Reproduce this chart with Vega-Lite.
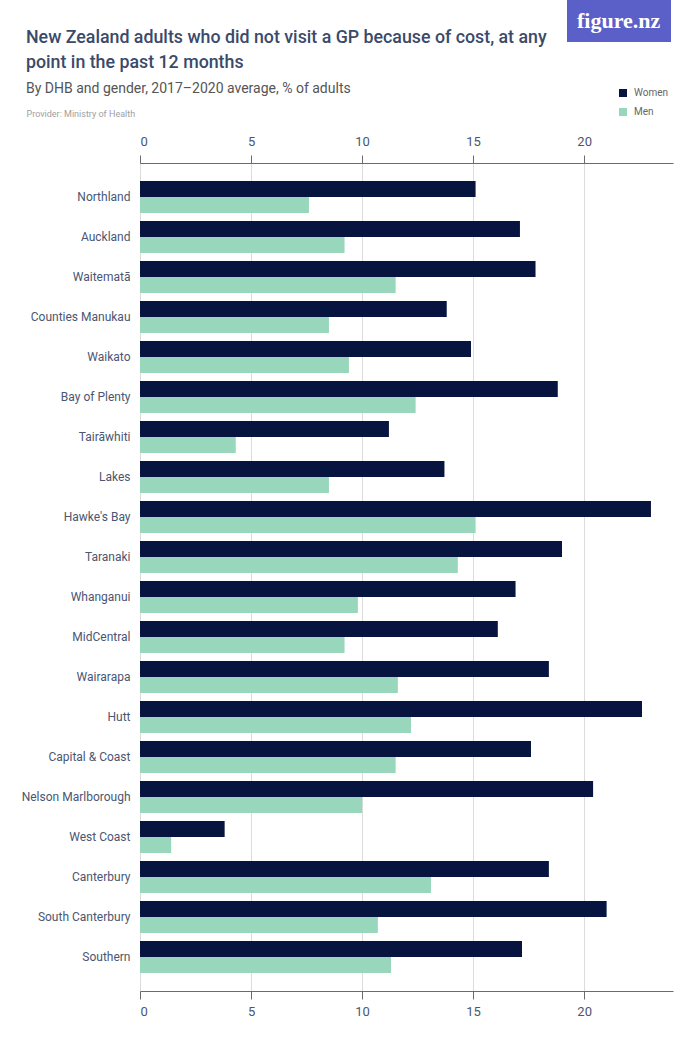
{
  "$schema": "https://vega.github.io/schema/vega-lite/v6.json",
  "width": 533,
  "height": 828,
  "autosize": {"type": "none"},
  "padding": {"left": 140, "top": 163, "right": 27, "bottom": 59},
  "background": "white",
  "config": {
    "font": "Roboto",
    "view": {"stroke": null}
  },
  "title": {
    "text": ["New Zealand adults who did not visit a GP because of cost, at any", "point in the past 12 months"],
    "subtitle": "By DHB and gender, 2017–2020 average, % of adults",
    "anchor": "start",
    "frame": "group",
    "dx": -114,
    "dy": 100,
    "font": "Roboto",
    "fontSize": 17.8,
    "fontWeight": 500,
    "lineHeight": 25,
    "color": "#3a4a6a",
    "subtitleFont": "Roboto",
    "subtitleFontSize": 14,
    "subtitleColor": "#555555",
    "subtitlePadding": 10
  },
  "data": {
    "values": [
      {"dhb": "Northland", "gender": "Women", "value": 15.1},
      {"dhb": "Northland", "gender": "Men", "value": 7.6},
      {"dhb": "Auckland", "gender": "Women", "value": 17.1},
      {"dhb": "Auckland", "gender": "Men", "value": 9.2},
      {"dhb": "Waitematā", "gender": "Women", "value": 17.8},
      {"dhb": "Waitematā", "gender": "Men", "value": 11.5},
      {"dhb": "Counties Manukau", "gender": "Women", "value": 13.8},
      {"dhb": "Counties Manukau", "gender": "Men", "value": 8.5},
      {"dhb": "Waikato", "gender": "Women", "value": 14.9},
      {"dhb": "Waikato", "gender": "Men", "value": 9.4},
      {"dhb": "Bay of Plenty", "gender": "Women", "value": 18.8},
      {"dhb": "Bay of Plenty", "gender": "Men", "value": 12.4},
      {"dhb": "Tairāwhiti", "gender": "Women", "value": 11.2},
      {"dhb": "Tairāwhiti", "gender": "Men", "value": 4.3},
      {"dhb": "Lakes", "gender": "Women", "value": 13.7},
      {"dhb": "Lakes", "gender": "Men", "value": 8.5},
      {"dhb": "Hawke's Bay", "gender": "Women", "value": 23.0},
      {"dhb": "Hawke's Bay", "gender": "Men", "value": 15.1},
      {"dhb": "Taranaki", "gender": "Women", "value": 19.0},
      {"dhb": "Taranaki", "gender": "Men", "value": 14.3},
      {"dhb": "Whanganui", "gender": "Women", "value": 16.9},
      {"dhb": "Whanganui", "gender": "Men", "value": 9.8},
      {"dhb": "MidCentral", "gender": "Women", "value": 16.1},
      {"dhb": "MidCentral", "gender": "Men", "value": 9.2},
      {"dhb": "Wairarapa", "gender": "Women", "value": 18.4},
      {"dhb": "Wairarapa", "gender": "Men", "value": 11.6},
      {"dhb": "Hutt", "gender": "Women", "value": 22.6},
      {"dhb": "Hutt", "gender": "Men", "value": 12.2},
      {"dhb": "Capital & Coast", "gender": "Women", "value": 17.6},
      {"dhb": "Capital & Coast", "gender": "Men", "value": 11.5},
      {"dhb": "Nelson Marlborough", "gender": "Women", "value": 20.4},
      {"dhb": "Nelson Marlborough", "gender": "Men", "value": 10.0},
      {"dhb": "West Coast", "gender": "Women", "value": 3.8},
      {"dhb": "West Coast", "gender": "Men", "value": 1.4},
      {"dhb": "Canterbury", "gender": "Women", "value": 18.4},
      {"dhb": "Canterbury", "gender": "Men", "value": 13.1},
      {"dhb": "South Canterbury", "gender": "Women", "value": 21.0},
      {"dhb": "South Canterbury", "gender": "Men", "value": 10.7},
      {"dhb": "Southern", "gender": "Women", "value": 17.2},
      {"dhb": "Southern", "gender": "Men", "value": 11.3}
    ]
  },
  "encoding": {
    "y": {
      "field": "dhb",
      "type": "nominal",
      "sort": null,
      "scale": {"paddingInner": 0, "paddingOuter": 0.35},
      "axis": {
        "title": null,
        "domain": false,
        "ticks": false,
        "labelPadding": 10,
        "labelFontSize": 12,
        "labelColor": "#4a5672",
        "labelFont": "Roboto"
      }
    },
    "yOffset": {
      "field": "gender",
      "type": "nominal",
      "sort": ["Women", "Men"],
      "scale": {"paddingInner": 0, "paddingOuter": 0.25}
    },
    "x": {
      "field": "value",
      "type": "quantitative",
      "scale": {"domain": [0, 24], "nice": false, "zero": true}
    },
    "color": {
      "field": "gender",
      "type": "nominal",
      "sort": ["Women", "Men"],
      "scale": {"domain": ["Women", "Men"], "range": ["#06143f", "#98d7bc"]},
      "legend": {
        "title": null,
        "orient": "none",
        "legendX": 478,
        "legendY": -75,
        "symbolType": "square",
        "symbolSize": 64,
        "symbolStrokeWidth": 0,
        "labelFontSize": 10,
        "labelColor": "#666666",
        "labelFont": "Roboto",
        "labelOffset": 6,
        "rowPadding": 9
      }
    }
  },
  "layer": [
    {
      "mark": {"type": "bar"},
      "encoding": {
        "x": {
          "field": "value",
          "type": "quantitative",
          "scale": {"domain": [0, 24], "nice": false, "zero": true},
          "axis": {
            "orient": "top",
            "values": [0, 5, 10, 15, 20],
            "grid": true,
            "gridColor": "#dcdcdc",
            "gridWidth": 1,
            "domainColor": "#6b6b6b",
            "tickColor": "#6b6b6b",
            "tickSize": 8,
            "labelFontSize": 13,
            "labelColor": "#4a5672",
            "labelFont": "Roboto",
            "labelPadding": 7,
            "title": "Provider: Ministry of Health",
            "titleX": -114,
            "titleY": -47,
            "titleAlign": "left",
            "titleAnchor": "start",
            "titleBaseline": "alphabetic",
            "titleFont": "Roboto",
            "titleFontSize": 9,
            "titleFontWeight": "normal",
            "titleColor": "#a0a0a0"
          }
        }
      }
    },
    {
      "mark": {"type": "bar"},
      "encoding": {
        "x": {
          "field": "value",
          "type": "quantitative",
          "scale": {"domain": [0, 24], "nice": false, "zero": true},
          "axis": {
            "orient": "bottom",
            "values": [0, 5, 10, 15, 20],
            "grid": false,
            "domainColor": "#6b6b6b",
            "tickColor": "#6b6b6b",
            "tickSize": 8,
            "labelFontSize": 13,
            "labelColor": "#4a5672",
            "labelFont": "Roboto",
            "labelPadding": 6,
            "title": null
          }
        },
        "opacity": {
          "datum": "figure.nz",
          "type": "nominal",
          "scale": {"range": [1]},
          "legend": {
            "title": null,
            "orient": "none",
            "legendX": 427,
            "legendY": -163,
            "fillColor": "#5b5fc8",
            "padding": 10,
            "symbolSize": 1,
            "symbolOpacity": 0,
            "symbolStrokeWidth": 0,
            "labelOffset": -22,
            "labelFont": "Liberation Serif",
            "labelFontWeight": "bold",
            "labelFontSize": 22,
            "labelColor": "white"
          }
        }
      }
    }
  ],
  "resolve": {"axis": {"x": "independent"}}
}
